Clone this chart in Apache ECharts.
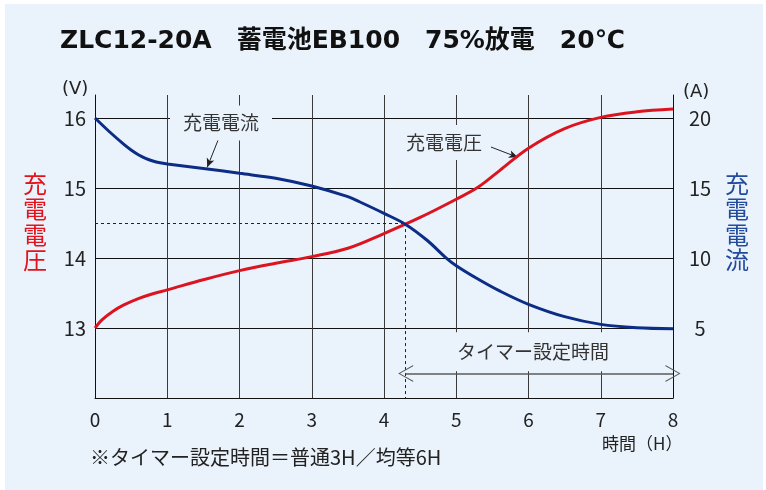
<!DOCTYPE html>
<html>
<head>
<meta charset="utf-8">
<script src="https://cdn.jsdelivr.net/npm/echarts@6/dist/echarts.min.js"></script>
<style>
html,body{margin:0;padding:0;background:#ffffff;}
#bg{position:absolute;left:5px;top:4px;width:758px;height:486px;background:#eaf3fb;}
#c{position:absolute;left:0;top:0;width:766px;height:490px;}
</style>
</head>
<body>
<div id="bg"></div>
<div id="c"></div>
<script>
// ---- data ----
const voltageHours = [0, 0.1, 0.25, 0.4, 0.6, 0.8, 1, 1.5, 2, 2.5, 3, 3.5, 4, 4.5, 5, 5.3, 5.6, 6, 6.5, 7, 7.5, 8];
const voltage      = [13.0, 13.12, 13.24, 13.33, 13.42, 13.49, 13.545, 13.69, 13.82, 13.925, 14.02, 14.14, 14.35, 14.58, 14.84, 15.01, 15.25, 15.57, 15.85, 16.01, 16.09, 16.13];
const currentHours = [0, 0.2, 0.4, 0.5, 0.6, 0.7, 0.8, 0.9, 1, 1.5, 2, 2.5, 3, 3.5, 3.66, 4, 4.3, 4.6, 4.85, 5, 5.3, 5.6, 6, 6.5, 7, 7.5, 8];
const current      = [20.0, 19.02, 18.12, 17.72, 17.38, 17.12, 16.93, 16.8, 16.72, 16.4, 16.05, 15.7, 15.14, 14.38, 14.02, 13.19, 12.4, 11.25, 10.05, 9.45, 8.5, 7.65, 6.69, 5.81, 5.26, 5.02, 4.95];
const xTicks = [0, 1, 2, 3, 4, 5, 6, 7, 8];
const vTicks = [13, 14, 15, 16];
const aTicks = [5, 10, 15, 20];
const timerStart = 4.3;
const timerVoltage = 14.5;
const titleText = 'ZLC12-20A\u3000蓄電池EB100\u300075%放電\u300020℃';
const noteText = '※タイマー設定時間＝普通3H／均等6H';

const RED = '#dc1420';
const BLUE = '#0c2d86';
const BG = '#eaf3fb';
const FONT = '"Noto Sans CJK JP", "Noto Sans", sans-serif';
const CHEVRON = 'path://M10,0 L20,18 L18.6,18 L10,2.2 L1.4,18 L0,18 Z';

const chart = echarts.init(document.getElementById('c'));
const pairs = (xs, ys) => xs.map((h, i) => [h, ys[i]]);

const option = {
  animation: false,
  textStyle: { fontFamily: FONT },
  grid: { left: 95, right: 93, top: 95, bottom: 92 },
  xAxis: {
    type: 'value', min: 0, max: 8, interval: 1,
    axisLine: { show: true, lineStyle: { color: '#111', width: 1 } },
    axisTick: { show: false },
    axisLabel: { fontSize: 19, color: '#222', margin: 12, fontFamily: FONT,
      formatter: v => xTicks.includes(v) ? String(v) : '' },
    splitLine: { show: true, showMinLine: false, showMaxLine: false, lineStyle: { color: '#3a3a3a', width: 1 } }
  },
  yAxis: [
    {
      type: 'value', min: 12, max: 16.33, interval: 1, position: 'left',
      axisLine: { show: true, lineStyle: { color: '#111', width: 1 } },
      axisTick: { show: false },
      axisLabel: { fontSize: 20, color: '#222', margin: 9, fontFamily: FONT,
        formatter: v => vTicks.includes(v) ? String(v) : '' },
      splitLine: { show: true, showMinLine: false, showMaxLine: false, lineStyle: { color: '#111', width: 1 } }
    },
    {
      type: 'value', min: 0, max: 21.645, interval: 5, position: 'right',
      axisLine: { show: true, lineStyle: { color: '#111', width: 1 } },
      axisTick: { show: false },
      axisLabel: { fontSize: 20, color: '#222', margin: 27, align: 'center', fontFamily: FONT,
        formatter: v => aTicks.includes(v) ? String(v) : '' },
      splitLine: { show: false }
    }
  ],
  series: [
    {
      name: '充電電圧', type: 'line', yAxisIndex: 0, smooth: 0.35, symbol: 'none', z: 5,
      lineStyle: { color: RED, width: 3 },
      data: pairs(voltageHours, voltage),
      markLine: {
        silent: true, animation: false, z: 3,
        label: { show: false },
        data: [
          [ { coord: [0, timerVoltage], symbol: 'none', lineStyle: { type: [3, 3], color: '#222', width: 1 } },
            { coord: [timerStart, timerVoltage], symbol: 'none' } ],
          [ { coord: [timerStart, timerVoltage], symbol: 'none', lineStyle: { type: [3, 3], color: '#222', width: 1 } },
            { coord: [timerStart, 12], symbol: 'none' } ],
          [ { coord: [timerStart, 12.35], symbol: CHEVRON, symbolSize: [17, 15],
              lineStyle: { type: 'solid', color: '#5a5a5a', width: 1.5 }, itemStyle: { color: '#5a5a5a' } },
            { coord: [8, 12.35], symbol: CHEVRON, symbolSize: [17, 15], itemStyle: { color: '#5a5a5a' } } ],
          [ { coord: [1.713, 15.71], symbol: 'none', lineStyle: { type: 'solid', color: '#222', width: 1 } },
            { coord: [1.553, 15.296], symbol: 'arrow', symbolSize: [6, 9], itemStyle: { color: '#222' } } ],
          [ { coord: [5.437, 15.604], symbol: 'none', lineStyle: { type: 'solid', color: '#222', width: 1 } },
            { coord: [5.852, 15.439], symbol: 'arrow', symbolSize: [6, 9], itemStyle: { color: '#222' } } ]
        ]
      },
      markPoint: {
        silent: true, animation: false, symbol: 'circle', symbolSize: 0,
        data: [
          { coord: [1.744, 15.93], label: { show: true, formatter: '充電電流', position: 'inside', fontSize: 19, color: '#333',
              backgroundColor: BG, padding: [8, 13], fontFamily: FONT } },
          { coord: [4.83, 15.65], label: { show: true, formatter: '充電電圧', position: 'inside', fontSize: 19, color: '#333',
              backgroundColor: BG, padding: [8, 9], fontFamily: FONT } },
          { coord: [6.062, 12.66], label: { show: true, formatter: 'タイマー設定時間', position: 'inside', fontSize: 19, color: '#333',
              backgroundColor: BG, padding: [10, 8], fontFamily: FONT } }
        ]
      }
    },
    {
      name: '充電電流', type: 'line', yAxisIndex: 1, smooth: 0.35, symbol: 'none', z: 5,
      lineStyle: { color: BLUE, width: 3 },
      data: pairs(currentHours, current)
    }
  ],
  graphic: [
    { type: 'text', left: 60, top: 29, style: { text: titleText, font: 'bold 25px "DejaVu Sans", "Noto Sans CJK JP", sans-serif', fill: '#111' } },
    { type: 'text', left: 62, top: 80, style: { text: '(V)', font: '18px "DejaVu Sans", sans-serif', fill: '#222' } },
    { type: 'text', left: 683, top: 83, style: { text: '(A)', font: '18px "DejaVu Sans", sans-serif', fill: '#222' } },
    { type: 'text', left: 23, top: 171, style: { text: '充\n電\n電\n圧', font: '24px ' + FONT, lineHeight: 25.5, fill: '#e1141e' } },
    { type: 'text', left: 725, top: 171, style: { text: '充\n電\n電\n流', font: '24px ' + FONT, lineHeight: 25.5, fill: '#244a9c' } },
    { type: 'text', left: 602, top: 435, style: { text: '時間（H）', font: '17px ' + FONT, fill: '#222' } },
    { type: 'text', left: 90, top: 447, style: { text: noteText, font: '20px ' + FONT, fill: '#222' } }
  ]
};
chart.setOption(option);
</script>
</body>
</html>
